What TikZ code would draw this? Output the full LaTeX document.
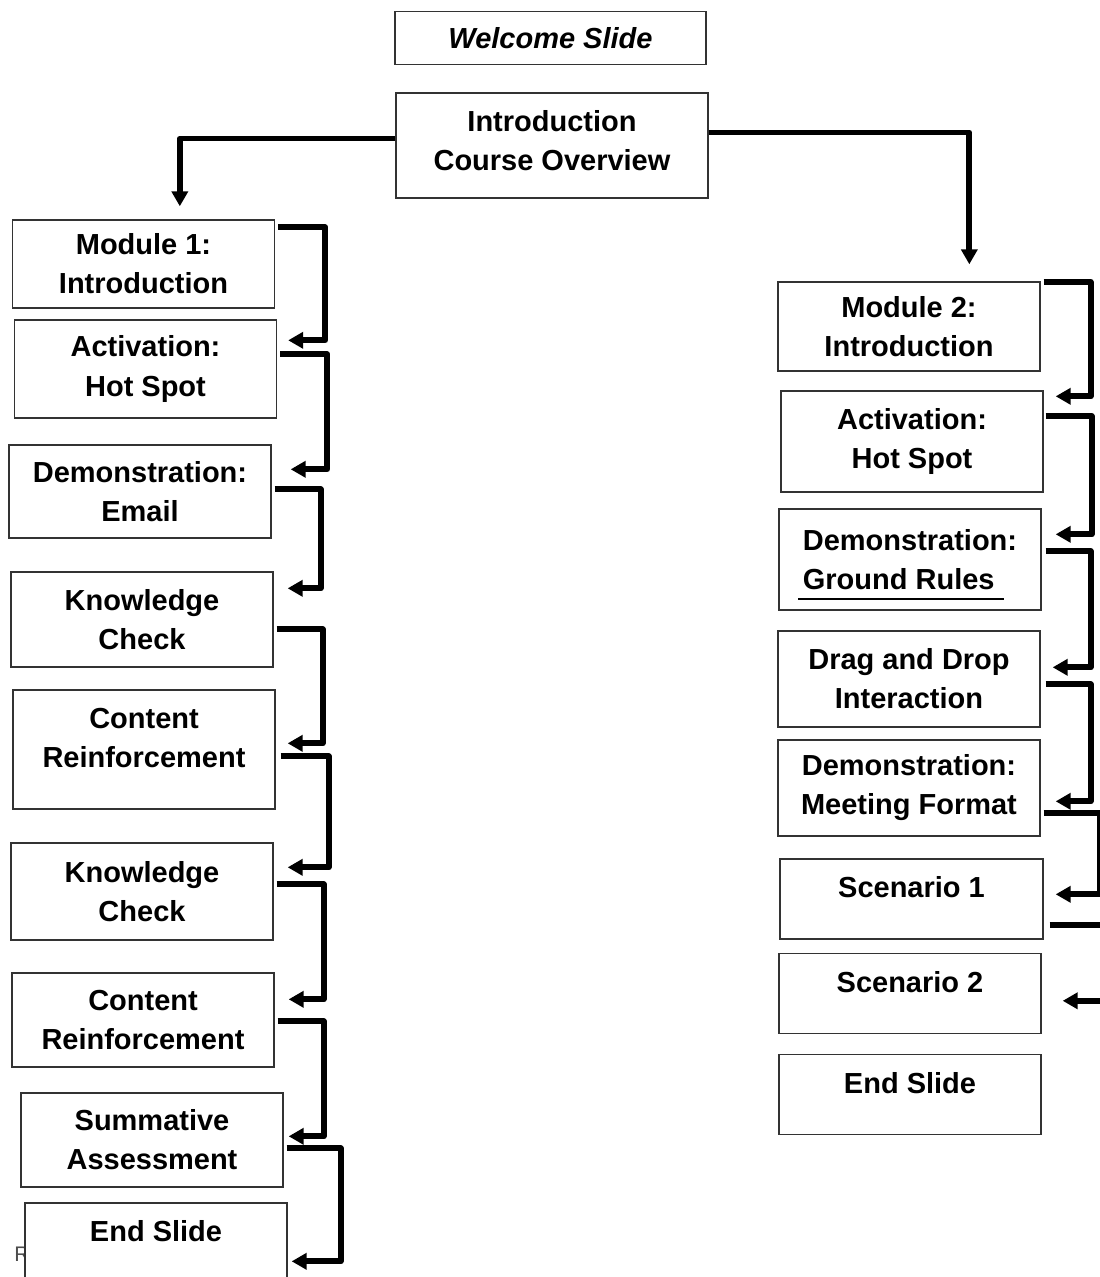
\documentclass[tikz,border=0pt]{standalone}
\usepackage{fontspec}
\setmainfont{Liberation Sans}
\usetikzlibrary{arrows.meta}

\begin{document}
\begin{tikzpicture}[
    x=0.02cm, y=-0.02cm,
    font=\fontsize{16.5}{22.2}\selectfont\bfseries,
    box/.style={draw=black!80, line width=0.8pt, fill=white, align=center, inner sep=0pt, minimum width=5.24cm},
    lift/.style={text depth=#1},
    conn/.style={line width=3.4pt, line join=round, -{Triangle[length=0.3cm, width=0.32cm]}},
    rule/.style={line width=1.2pt}
]
\useasboundingbox (0,0) rectangle (1099,1277);
\node[text=black!70, font=\fontsize{12}{14}\selectfont] (stray) at (22,1254) {R};
\node[box, minimum width=6.22cm, minimum height=1.06cm, font=\fontsize{16.5}{22.2}\selectfont\bfseries\itshape] (welcome) at (550.5,38) {Welcome Slide};
\node[box, minimum width=6.24cm, minimum height=2.1cm, lift=0.2cm] (intro) at (552,145.5) {Introduction\\Course Overview};
\node[box, minimum height=1.76cm] (m1) at (143.5,264) {Module 1:\\Introduction};
\node[box, minimum height=1.96cm] (act1) at (145.5,369) {Activation:\\Hot Spot};
\node[box, minimum height=1.86cm] (demo1) at (140,491.5) {Demonstration:\\Email};
\node[box, minimum height=1.9cm] (kc1) at (142,619.5) {Knowledge\\Check};
\node[box, minimum height=2.38cm, lift=0.48cm] (cr1) at (144,749.5) {Content\\Reinforcement};
\node[box, minimum height=1.94cm] (kc2) at (142,891.5) {Knowledge\\Check};
\node[box, minimum height=1.88cm] (cr2) at (143,1020) {Content\\Reinforcement};
\node[box, minimum height=1.88cm] (sa) at (152,1140) {Summative\\Assessment};
\node[box, minimum height=1.94cm, lift=0.82cm] (end1) at (156,1251.5) {End Slide};
\node[box, minimum height=1.78cm] (m2) at (909,326.5) {Module 2:\\Introduction};
\node[box, minimum height=2.02cm] (act2) at (912,441.5) {Activation:\\Hot Spot};
\node[box, minimum height=2.02cm, align=left] (demo2) at (910,559.5) {Demonstration:\\Ground Rules};
\node[box, minimum height=1.92cm] (dnd) at (909,679) {Drag and Drop\\Interaction};
\node[box, minimum height=1.92cm] (demo3) at (909,788) {Demonstration:\\Meeting Format};
\node[box, minimum width=5.26cm, minimum height=1.6cm, lift=0.48cm] (sc1) at (911.5,899) {Scenario 1};
\node[box, minimum height=1.6cm, lift=0.48cm] (sc2) at (910,993.5) {Scenario 2};
\node[box, minimum height=1.6cm, lift=0.48cm] (end2) at (910,1094.5) {End Slide};
\draw[rule] ([shift={(20,-12)}]demo2.south west) -- ([shift={(226,-12)}]demo2.south west);
\draw[conn] ([shift={(0,-7)}]intro.west) -| ([shift={(168,-13)}]m1.north west);
\draw[conn] ([shift={(0,-13)}]intro.east) -| ([shift={(192,-17)}]m2.north west);
\draw[conn] ([shift={(3,8)}]m1.north east) -- ++(47,0) |- ([shift={(11,21)}]act1.north east);
\draw[conn] ([shift={(3,35)}]act1.north east) -- ++(47,0) |- ([shift={(19,25)}]demo1.north east);
\draw[conn] ([shift={(3,45)}]demo1.north east) -- ++(46,0) |- ([shift={(14,17)}]kc1.north east);
\draw[conn] ([shift={(3,58)}]kc1.north east) -- ++(46,0) |- ([shift={(12,54)}]cr1.north east);
\draw[conn] ([shift={(5,67)}]cr1.north east) -- ++(48,0) |- ([shift={(14,25)}]kc2.north east);
\draw[conn] ([shift={(3,42)}]kc2.north east) -- ++(47,0) |- ([shift={(14,27)}]cr2.north east);
\draw[conn] ([shift={(3,49)}]cr2.north east) -- ++(46,0) |- ([shift={(5,44)}]sa.north east);
\draw[conn] ([shift={(3,56)}]sa.north east) -- ++(54,0) |- ([shift={(4,59)}]end1.north east);
\draw[conn] ([shift={(3,1)}]m2.north east) -- ++(47,0) |- ([shift={(12,6)}]act2.north east);
\draw[conn] ([shift={(2,26)}]act2.north east) -- ++(46,0) |- ([shift={(14,26)}]demo2.north east);
\draw[conn] ([shift={(4,43)}]demo2.north east) -- ++(45,0) |- ([shift={(12,37)}]dnd.north east);
\draw[conn] ([shift={(5,54)}]dnd.north east) -- ++(45,0) |- ([shift={(15,62)}]demo3.north east);
\draw[conn] ([shift={(3,74)}]demo3.north east) -- ++(56,0) |- ([shift={(12,36)}]sc1.north east);
\draw[conn] ([shift={(6,67)}]sc1.north east) -- ++(57,0) |- ([shift={(21,48)}]sc2.north east);
\end{tikzpicture}
\end{document}
